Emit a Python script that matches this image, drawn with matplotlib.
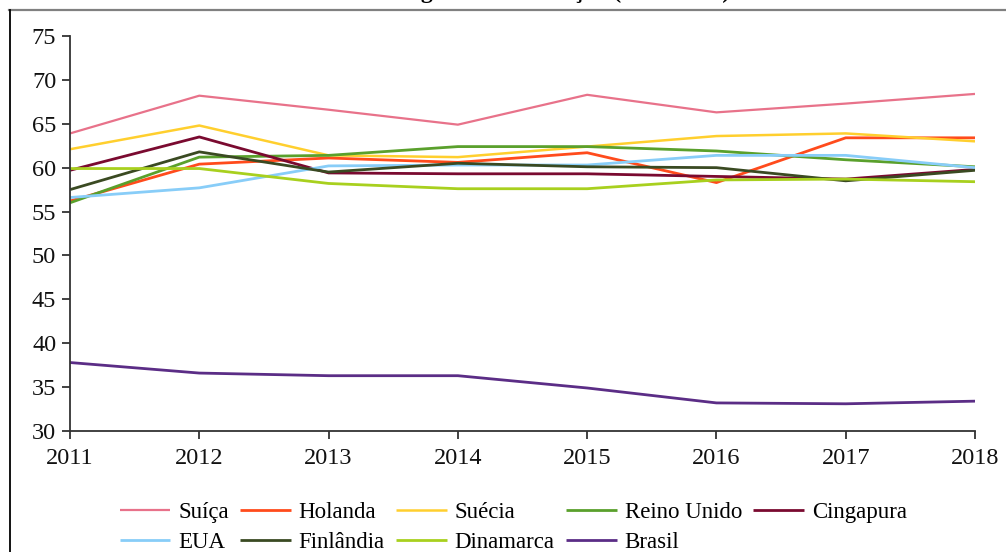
import matplotlib
matplotlib.use("Agg")
import matplotlib.pyplot as plt
from matplotlib.lines import Line2D

plt.rcParams['font.family'] = ['Liberation Serif', 'DejaVu Serif']

anos = [2011, 2012, 2013, 2014, 2015, 2016, 2017, 2018]

suica = [63.9, 68.2, 66.6, 64.9, 68.3, 66.3, 67.3, 68.4]
holanda = [56.2, 60.4, 61.1, 60.6, 61.7, 58.3, 63.4, 63.4]
suecia = [62.1, 64.8, 61.4, 61.2, 62.4, 63.6, 63.9, 63.0]
reino_unido = [56.0, 61.2, 61.4, 62.4, 62.4, 61.9, 60.9, 60.1]
cingapura = [59.7, 63.5, 59.4, 59.3, 59.3, 59.0, 58.7, 59.8]
eua = [56.6, 57.7, 60.2, 60.3, 60.3, 61.4, 61.4, 60.0]
finlandia = [57.5, 61.8, 59.5, 60.5, 60.1, 60.0, 58.5, 59.7]
dinamarca = [59.9, 59.9, 58.2, 57.6, 57.6, 58.6, 58.7, 58.4]
brasil = [37.8, 36.6, 36.3, 36.3, 34.9, 33.2, 33.1, 33.4]

series = [
    ('Suíça', suica, '#e8728a', 1.6),
    ('Holanda', holanda, '#ff4b1c', 2.0),
    ('Suécia', suecia, '#ffcf2e', 1.8),
    ('Reino Unido', reino_unido, '#5aa02c', 2.0),
    ('Cingapura', cingapura, '#7a0a30', 2.0),
    ('EUA', eua, '#88cdf8', 2.0),
    ('Finlândia', finlandia, '#3a4a22', 2.0),
    ('Dinamarca', dinamarca, '#a8d01e', 2.0),
    ('Brasil', brasil, '#5b2d86', 2.0),
]

fig = plt.figure(figsize=(10.06, 5.52), dpi=100)
ax = fig.add_axes([0.0696, 0.2192, 0.8996, 0.7156])

lines = {}
for nome, vals, cor, lw in series:
    ln, = ax.plot(anos, vals, color=cor, lw=lw, solid_capstyle='butt')
    lines[nome] = ln

ax.set_xlim(2011, 2018)
ax.set_ylim(30, 75)
ax.set_xticks(anos)
ax.set_yticks(range(30, 80, 5))
for s in ['top', 'right']:
    ax.spines[s].set_visible(False)
for s in ['left', 'bottom']:
    ax.spines[s].set_color('#333333')
    ax.spines[s].set_linewidth(1.3)
ax.tick_params(axis='both', direction='out', length=6, width=1.3,
               color='#333333', labelsize=17.5, labelcolor='#111111')
ax.tick_params(axis='x', pad=6)
ax.tick_params(axis='y', pad=4)

# legend goes column-first, so reorder to get row-wise look
ordem = ['Suíça', 'EUA', 'Holanda', 'Finlândia', 'Suécia', 'Dinamarca',
         'Reino Unido', 'Brasil', 'Cingapura']
leg = fig.legend([lines[n] for n in ordem], ordem, ncol=5,
                 loc='upper left', bbox_to_anchor=(0.119, 0.091),
                 frameon=False, fontsize=16.5, handlelength=2.2,
                 handletextpad=0.35, columnspacing=0.5, labelspacing=0.4,
                 borderaxespad=0, borderpad=0)

# pieces of the frame around the figure
fig.add_artist(Line2D([9 / 1006, 1.0], [1 - 10 / 552, 1 - 10 / 552],
                      color='#808080', lw=1.6, transform=fig.transFigure))
fig.add_artist(Line2D([9.5 / 1006, 9.5 / 1006], [0, 1 - 10 / 552],
                      color='black', lw=1.3, transform=fig.transFigure))

# title cut off by the top edge, as in the source image
fig.text(730 / 1006, 1.004, 'Índice global de inovação (2011-2018)',
         ha='right', va='baseline', fontsize=17, fontweight='bold')

fig.savefig('out.png', dpi=100)
